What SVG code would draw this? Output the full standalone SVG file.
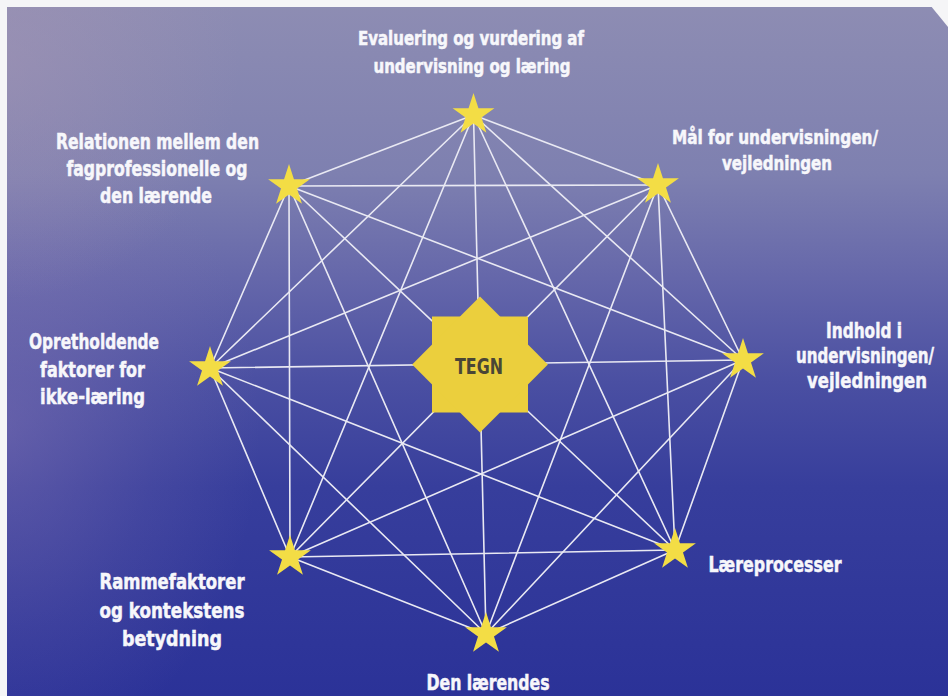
<svg xmlns="http://www.w3.org/2000/svg" xmlns:xlink="http://www.w3.org/1999/xlink" width="948" height="696" viewBox="0 0 948 696">
<style>
.bg{fill:url(#bgGrad)}
.edge{stroke:#e9e9f3;stroke-width:1.6;stroke-linecap:round}
.star{fill:#f3dd45}
.core{fill:#ebcf3d}
.lbl{font-family:"DejaVu Sans Condensed","DejaVu Sans","Liberation Sans",sans-serif;font-stretch:condensed;font-weight:bold;fill:#f7f7fb;stroke:#f7f7fb;stroke-width:0.5;text-anchor:middle}
.core-t{font-family:"DejaVu Sans Condensed","DejaVu Sans","Liberation Sans",sans-serif;font-stretch:condensed;font-weight:bold;fill:#4a4636;text-anchor:middle}
</style>
<defs>
<linearGradient id="bgGrad" x1="0" y1="0" x2="0" y2="1">
<stop offset="0" stop-color="#8e8db3"/>
<stop offset="0.25" stop-color="#7e80b0"/>
<stop offset="0.4" stop-color="#6567aa"/>
<stop offset="0.55" stop-color="#4a4fa2"/>
<stop offset="0.7" stop-color="#373e9c"/>
<stop offset="1" stop-color="#2b3298"/>
</linearGradient>
<radialGradient id="haze" cx="0" cy="430" r="260" gradientUnits="userSpaceOnUse" gradientTransform="translate(0,430) scale(1,1.3) translate(0,-430)">
<stop offset="0" stop-color="#8e7cb6" stop-opacity="0.45"/>
<stop offset="0.6" stop-color="#8e7cb6" stop-opacity="0.15"/>
<stop offset="1" stop-color="#8e7cb6" stop-opacity="0"/>
</radialGradient>
<radialGradient id="hazeTop" cx="0" cy="60" r="240" gradientUnits="userSpaceOnUse">
<stop offset="0" stop-color="#a696b4" stop-opacity="0.5"/>
<stop offset="1" stop-color="#a696b4" stop-opacity="0"/>
</radialGradient>
<path id="s" d="M0,-22 L4.94,-6.8 L20.92,-6.8 L7.99,2.6 L12.93,17.8 L0,8.4 L-12.93,17.8 L-7.99,2.6 L-20.92,-6.8 L-4.94,-6.8 Z"/>
</defs>

<rect class="bg" x="0" y="0" width="948" height="696"/>
<rect x="0" y="0" width="948" height="696" fill="url(#haze)"/>
<rect x="0" y="0" width="948" height="696" fill="url(#hazeTop)"/>
<rect x="0" y="0" width="948" height="7" fill="#f5f5f7"/>
<rect x="0" y="0" width="7" height="696" fill="#f5f5f7"/>
<polygon points="926,0 948,0 948,27" fill="#f5f5f7"/>

<g id="connectors">
<line class="edge" x1="473.5" y1="115" x2="658" y2="185"/>
<line class="edge" x1="473.5" y1="115" x2="743" y2="360"/>
<line class="edge" x1="473.5" y1="115" x2="675" y2="550"/>
<line class="edge" x1="473.5" y1="115" x2="486" y2="634"/>
<line class="edge" x1="473.5" y1="115" x2="290" y2="557"/>
<line class="edge" x1="473.5" y1="115" x2="210" y2="368"/>
<line class="edge" x1="473.5" y1="115" x2="289" y2="186"/>
<line class="edge" x1="658" y1="185" x2="743" y2="360"/>
<line class="edge" x1="658" y1="185" x2="675" y2="550"/>
<line class="edge" x1="658" y1="185" x2="486" y2="634"/>
<line class="edge" x1="658" y1="185" x2="290" y2="557"/>
<line class="edge" x1="658" y1="185" x2="210" y2="368"/>
<line class="edge" x1="658" y1="185" x2="289" y2="186"/>
<line class="edge" x1="743" y1="360" x2="675" y2="550"/>
<line class="edge" x1="743" y1="360" x2="486" y2="634"/>
<line class="edge" x1="743" y1="360" x2="290" y2="557"/>
<line class="edge" x1="743" y1="360" x2="210" y2="368"/>
<line class="edge" x1="743" y1="360" x2="289" y2="186"/>
<line class="edge" x1="675" y1="550" x2="486" y2="634"/>
<line class="edge" x1="675" y1="550" x2="290" y2="557"/>
<line class="edge" x1="675" y1="550" x2="210" y2="368"/>
<line class="edge" x1="675" y1="550" x2="289" y2="186"/>
<line class="edge" x1="486" y1="634" x2="290" y2="557"/>
<line class="edge" x1="486" y1="634" x2="210" y2="368"/>
<line class="edge" x1="486" y1="634" x2="289" y2="186"/>
<line class="edge" x1="290" y1="557" x2="210" y2="368"/>
<line class="edge" x1="290" y1="557" x2="289" y2="186"/>
<line class="edge" x1="210" y1="368" x2="289" y2="186"/>
</g>

<g id="node-center">
<g transform="translate(480,364.5)">
<rect class="core" x="-48" y="-48" width="96" height="96"/>
<rect class="core" x="-48" y="-48" width="96" height="96" transform="rotate(45)"/>
</g>
<text class="core-t" x="479" y="374" font-size="22" textLength="48" lengthAdjust="spacingAndGlyphs">TEGN</text>
</g>

<g id="node-evaluering">
<use href="#s" xlink:href="#s" class="star" x="473.5" y="115"/>
<text class="lbl" font-size="19"><tspan x="471" y="45" textLength="226" lengthAdjust="spacingAndGlyphs">Evaluering og vurdering af</tspan><tspan x="472" y="73" textLength="197" lengthAdjust="spacingAndGlyphs">undervisning og læring</tspan></text>
</g>

<g id="node-maal">
<use href="#s" xlink:href="#s" class="star" x="658" y="185"/>
<text class="lbl" font-size="20"><tspan x="775" y="144" textLength="206" lengthAdjust="spacingAndGlyphs">Mål for undervisningen/</tspan><tspan x="777" y="170" textLength="110" lengthAdjust="spacingAndGlyphs">vejledningen</tspan></text>
</g>

<g id="node-indhold">
<use href="#s" xlink:href="#s" class="star" x="743" y="360"/>
<text class="lbl" font-size="21.5" transform="matrix(0.75,0,0,1,865,0)"><tspan x="-1.3" y="338" textLength="101.3" lengthAdjust="spacingAndGlyphs">Indhold i</tspan><tspan x="0" y="363" textLength="184" lengthAdjust="spacingAndGlyphs">undervisningen/</tspan><tspan x="2.7" y="388" textLength="160" lengthAdjust="spacingAndGlyphs">vejledningen</tspan></text>
</g>

<g id="node-laereprocesser">
<use href="#s" xlink:href="#s" class="star" x="675" y="550"/>
<text class="lbl" font-size="21"><tspan x="775" y="572" textLength="133" lengthAdjust="spacingAndGlyphs">Læreprocesser</tspan></text>
</g>

<g id="node-den-laerendes">
<use href="#s" xlink:href="#s" class="star" x="486" y="634"/>
<text class="lbl" font-size="20.5"><tspan x="488" y="690" textLength="123" lengthAdjust="spacingAndGlyphs">Den lærendes</tspan></text>
</g>

<g id="node-rammefaktorer">
<use href="#s" xlink:href="#s" class="star" x="290" y="557"/>
<text class="lbl" font-size="21"><tspan x="172" y="589" textLength="145" lengthAdjust="spacingAndGlyphs">Rammefaktorer</tspan><tspan x="172" y="618" textLength="145" lengthAdjust="spacingAndGlyphs">og kontekstens</tspan><tspan x="172" y="646" textLength="100" lengthAdjust="spacingAndGlyphs">betydning</tspan></text>
</g>

<g id="node-opretholdende">
<use href="#s" xlink:href="#s" class="star" x="210" y="368"/>
<text class="lbl" font-size="22"><tspan x="94" y="349" textLength="130" lengthAdjust="spacingAndGlyphs">Opretholdende</tspan><tspan x="92.5" y="377" textLength="105" lengthAdjust="spacingAndGlyphs">faktorer for</tspan><tspan x="92.5" y="404" textLength="105" lengthAdjust="spacingAndGlyphs">ikke-læring</tspan></text>
</g>

<g id="node-relationen">
<use href="#s" xlink:href="#s" class="star" x="289" y="186"/>
<text class="lbl" font-size="21"><tspan x="157.5" y="149" textLength="203" lengthAdjust="spacingAndGlyphs">Relationen mellem den</tspan><tspan x="157" y="176" textLength="181" lengthAdjust="spacingAndGlyphs">fagprofessionelle og</tspan><tspan x="156" y="203" textLength="112" lengthAdjust="spacingAndGlyphs">den lærende</tspan></text>
</g>
</svg>
